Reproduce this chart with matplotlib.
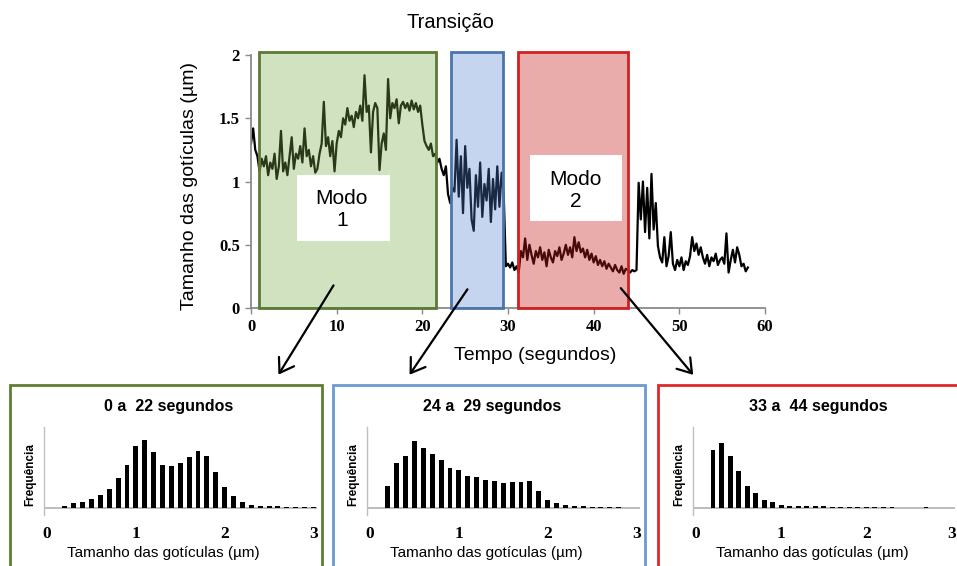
import numpy as np
import matplotlib
matplotlib.use("Agg")
import matplotlib.pyplot as plt
from matplotlib.patches import Rectangle, FancyArrowPatch

W, H = 957, 566

# droplet size time series (um), one value every 0.25 s
TIME_STEP = 0.25
SIZE_TS = [
    1.30, 1.42, 1.25, 1.20,  1.08, 1.18, 1.12, 1.20,  1.05, 1.15, 1.10, 1.22,
    1.02, 1.12, 1.40, 1.08,  1.15, 1.05, 1.20, 1.35,  1.10, 1.22, 1.18, 1.28,
    1.15, 1.42, 1.20, 1.25,  1.12, 1.20, 1.07, 1.10,  1.22, 1.30, 1.63, 1.28,
    1.35, 1.20, 1.32, 1.08,  1.30, 1.40, 1.35, 1.50,  1.45, 1.58, 1.48, 1.52,
    1.43, 1.55, 1.50, 1.60,  1.48, 1.84, 1.55, 1.60,  1.23, 1.55, 1.62, 1.58,
    1.09, 1.30, 1.38, 1.25,  1.81, 1.50, 1.62, 1.58,  1.65, 1.46, 1.60, 1.63,
    1.58, 1.62, 1.56, 1.64,  1.57, 1.62, 1.55, 1.60,  1.45, 1.32, 1.28, 1.25,
    1.30, 1.20, 1.22, 1.15,  1.18, 1.10, 1.05, 1.12,  0.90, 0.83, 0.95, 0.92,
    1.33, 0.88, 1.20, 0.75,  1.28, 0.95, 1.10, 0.70,  0.61, 1.05, 0.80, 1.15,
    0.72, 0.98, 0.85, 1.10,  0.68, 1.02, 0.78, 1.12,  0.80, 1.07, 0.90, 0.33,
    0.35, 0.32, 0.36, 0.30,  0.33, 0.28, 0.45, 0.40,  0.55, 0.38, 0.50, 0.42,
    0.35, 0.45, 0.40, 0.48,  0.38, 0.44, 0.33, 0.46,  0.40, 0.36, 0.45, 0.41,
    0.48, 0.38, 0.43, 0.50,  0.42, 0.48, 0.40, 0.56,  0.45, 0.52, 0.44, 0.47,
    0.40, 0.46, 0.38, 0.43,  0.36, 0.41, 0.34, 0.38,  0.33, 0.37, 0.31, 0.35,
    0.32, 0.29, 0.34, 0.30,  0.28, 0.33, 0.27, 0.31,  0.30, 0.28, 0.30, 0.29,
    0.30, 0.99, 0.70, 1.00,  0.60, 0.95, 0.55, 1.06,  0.62, 0.83, 0.49, 0.40,
    0.36, 0.56, 0.33, 0.41,  0.60, 0.35, 0.30, 0.38,  0.33, 0.40, 0.30, 0.37,
    0.34, 0.41, 0.56, 0.45,  0.51, 0.42, 0.48, 0.40,  0.35, 0.42, 0.33, 0.40,
    0.37, 0.43, 0.34, 0.38,  0.40, 0.35, 0.59, 0.28,  0.38, 0.46, 0.36, 0.48,
    0.42, 0.33, 0.35, 0.29,  0.32,
]

# highlighted time windows (s)
WINDOWS = [(0.95, 21.6), (23.3, 29.4), (31.2, 44.0)]
WIN_FILL = ["#7aaa4a", "#4f7fd1", "#c81b1b"]
WIN_ALPHA = [0.34, 0.33, 0.37]
WIN_EDGE = ["#5b7a33", "#4a75aa", "#d02020"]

# histograms (bin centre in um, frequency in arbitrary units)
H1_X = [0.2, 0.3, 0.4, 0.5, 0.6, 0.7, 0.8, 0.9, 1.0, 1.1, 1.2, 1.3, 1.4, 1.5,
        1.6, 1.7, 1.8, 1.9, 2.0, 2.1, 2.2, 2.3, 2.4, 2.5, 2.6, 2.7, 2.8, 2.9, 3.0]
H1_Y = [7, 15, 18, 28, 40, 57, 91, 130, 185, 205, 168, 130, 127, 135,
        153, 170, 155, 107, 62, 35, 18, 9, 7, 5, 5, 4, 4, 4, 4]
H2_X = [0.2, 0.3, 0.4, 0.5, 0.6, 0.7, 0.8, 0.9, 1.0, 1.1, 1.2, 1.3, 1.4, 1.5,
        1.6, 1.7, 1.8, 1.9, 2.0, 2.1, 2.2, 2.3, 2.4, 2.5, 2.6, 2.7, 2.8]
H2_Y = [67, 135, 155, 202, 180, 162, 143, 120, 115, 95, 92, 85, 80, 75,
        78, 78, 82, 50, 25, 15, 8, 5, 5, 4, 4, 4, 4]
H3_X = [0.2, 0.3, 0.4, 0.5, 0.6, 0.7, 0.8, 0.9, 1.0, 1.1, 1.2, 1.3, 1.4, 1.5,
        1.6, 1.7, 1.8, 1.9, 2.0, 2.1, 2.2, 2.3, 2.7]
H3_Y = [175, 195, 155, 112, 65, 45, 25, 17, 8, 6, 5, 5, 5, 5,
        4, 4, 4, 4, 4, 4, 4, 4, 4]
HIST_TITLES = ["0 a  22 segundos", "24 a  29 segundos", "33 a  44 segundos"]
HIST_BOX = ["#5e7d32", "#6c9bd2", "#e02828"]

SANS = "Liberation Sans"
SERIF = "Liberation Serif"


def fx(px):
    return px / W


def fy(py):
    return 1 - py / H


fig = plt.figure(figsize=(W / 100, H / 100), dpi=100)

# --- top time series -------------------------------------------------------
ax = fig.add_axes([fx(251), fy(308), 514 / W, 253 / H])
t = np.arange(len(SIZE_TS)) * TIME_STEP
ax.plot(t, SIZE_TS, color="black", lw=1.6, zorder=2)
for (a, b), fc, al, ec in zip(WINDOWS, WIN_FILL, WIN_ALPHA, WIN_EDGE):
    ax.add_patch(Rectangle((a, 0), b - a, 2.02, facecolor=fc, alpha=al,
                           edgecolor="none", zorder=3, clip_on=False))
    ax.add_patch(Rectangle((a, 0), b - a, 2.02, facecolor="none",
                           edgecolor=ec, lw=2.0, zorder=4, clip_on=False))
ax.add_patch(Rectangle((5.4, 0.53), 10.8, 0.52, facecolor="white",
                       edgecolor="none", zorder=5))
ax.add_patch(Rectangle((32.6, 0.69), 10.7, 0.52, facecolor="white",
                       edgecolor="none", zorder=5))
ax.text(10.6, 0.775, "Modo\n1", ha="center", va="center", fontsize=15,
        family=SANS, linespacing=1.2, zorder=6)
ax.text(37.9, 0.93, "Modo\n2", ha="center", va="center", fontsize=15,
        family=SANS, linespacing=1.2, zorder=6)

ax.set_xlim(0, 60)
ax.set_ylim(0, 2)
ax.set_xticks([0, 10, 20, 30, 40, 50, 60])
ax.set_yticks([0, 0.5, 1, 1.5, 2])
ax.set_yticklabels(["0", "0.5", "1", "1.5", "2"])
for s in ["top", "right"]:
    ax.spines[s].set_visible(False)
for s in ["left", "bottom"]:
    ax.spines[s].set_color("#8a8a8a")
    ax.spines[s].set_linewidth(1.3)
ax.tick_params(direction="out", length=4, width=1.0, color="#8a8a8a", pad=4)
for lab in ax.get_xticklabels() + ax.get_yticklabels():
    lab.set_family(SERIF)
    lab.set_fontweight("bold")
    lab.set_fontsize(12)
ax.patch.set_visible(False)

fig.text(fx(450), fy(22), "Transição", ha="center", va="center",
         fontsize=14.5, family=SANS)
fig.text(fx(190), fy(186), "Tamanho das gotículas (µm)", ha="center",
         va="center", rotation=90, fontsize=14, family=SANS)
fig.text(fx(535), fy(355), "Tempo (segundos)", ha="center", va="center",
         fontsize=14, family=SANS)

# arrows from windows to histograms
arrows = [((335, 283), (277, 377)), ((469, 287), (408, 377)),
          ((619, 286), (695, 377))]
for (x0, y0), (x1, y1) in arrows:
    fig.add_artist(FancyArrowPatch(
        (fx(x0), fy(y0)), (fx(x1), fy(y1)), transform=fig.transFigure,
        arrowstyle="->,head_length=6,head_width=4", lw=1.6, color="black",
        mutation_scale=1.6))

# --- histogram panels --------------------------------------------------------
boxes = [(10, 322), (333, 645), (658, 990)]
axis_left = [44, 367, 693]
axis_width = [273, 273, 262]
hists = [(H1_X, H1_Y), (H2_X, H2_Y), (H3_X, H3_Y)]
for (bx0, bx1), al, aw, (hx, hy), title, bc in zip(
        boxes, axis_left, axis_width, hists, HIST_TITLES, HIST_BOX):
    fig.add_artist(Rectangle((fx(bx0), fy(600)), (bx1 - bx0) / W, 215 / H,
                             transform=fig.transFigure, facecolor="none",
                             edgecolor=bc, lw=2.0))
    hax = fig.add_axes([fx(al), fy(514.7), aw / W, 87.7 / H])
    hax.bar(hx, hy, width=0.055 * 273 / aw, color="black", zorder=3)
    hax.axhline(0, color="#b0b0b0", lw=1.2, zorder=2)
    hax.set_xlim(-0.035, 3.04)
    hax.set_ylim(-20, 243)
    hax.set_xticks([0, 1, 2, 3])
    hax.set_yticks([])
    for s in ["top", "right", "bottom"]:
        hax.spines[s].set_visible(False)
    hax.spines["left"].set_color("#c0c0c0")
    hax.spines["left"].set_linewidth(1.0)
    hax.tick_params(axis="x", length=0, pad=8)
    for lab in hax.get_xticklabels():
        lab.set_family(SERIF)
        lab.set_fontweight("bold")
        lab.set_fontsize(12.5)
    hax.patch.set_visible(False)
    fig.text(fx(al + 125), fy(406), title, ha="center", va="center",
             fontsize=11.5, fontweight="bold", family=SANS)
    fig.text(fx(al - 14), fy(474), "Frequência", ha="center", va="center",
             rotation=90, fontsize=8.5, fontweight="bold", family=SANS)
    fig.text(fx(al + 119), fy(553), "Tamanho das gotículas (µm)",
             ha="center", va="center", fontsize=11, family=SANS)

fig.savefig("out.png", dpi=100)
